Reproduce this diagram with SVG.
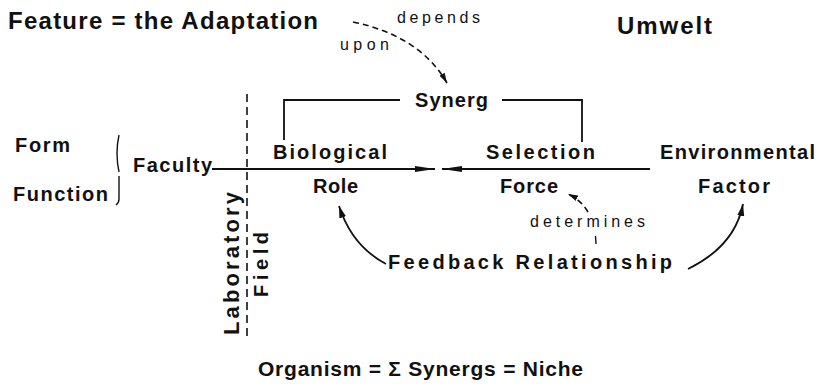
<svg xmlns="http://www.w3.org/2000/svg" width="829" height="390" viewBox="0 0 829 390">
<style>
text{font-family:"Liberation Sans","DejaVu Sans",sans-serif;fill:#111;}
.b{font-size:20px;font-weight:bold;}
.t{font-size:24px;font-weight:bold;}
.s{font-size:16px;font-weight:normal;}
.ln{fill:none;stroke:#111;stroke-width:1.8;}
.dash{fill:none;stroke:#111;stroke-width:1.6;stroke-dasharray:6,4;}
</style>
<defs>
<marker id="ah" viewBox="0 0 20 8" refX="20" refY="4" markerWidth="20" markerHeight="8" markerUnits="userSpaceOnUse" orient="auto"><path d="M0,1 L20,4 L0,7 Z" fill="#111"/></marker>
<marker id="ac" viewBox="0 0 12 8" refX="12" refY="4" markerWidth="12" markerHeight="8" markerUnits="userSpaceOnUse" orient="auto"><path d="M0,0.5 L12,4 L0,7.5 Z" fill="#111"/></marker>
<marker id="ad" viewBox="0 0 10 7" refX="10" refY="3.5" markerWidth="10" markerHeight="7" markerUnits="userSpaceOnUse" orient="auto"><path d="M0,0.5 L10,3.5 L0,6.5 Z" fill="#111"/></marker>
</defs>
<g id="connectors">
<path class="ln" d="M212,169 L435,169" marker-end="url(#ah)"/>
<path class="ln" d="M650,169 L442,169" marker-end="url(#ah)"/>
<path class="ln" d="M284,140 L284,100 L400,100"/>
<path class="ln" d="M502,100 L582,100 L582,142"/>
<path class="dash" d="M353,22 Q420,36 447,83" marker-end="url(#ad)"/>
<path class="dash" d="M588,212 Q581,200 568,194" marker-end="url(#ad)"/>
<path class="ln" d="M595.5,236 L596,244" style="stroke-width:1.4"/>
<path class="ln" d="M386,264 Q352,246 339,206" marker-end="url(#ac)"/>
<path class="ln" d="M688,269 Q735,246 743,204" marker-end="url(#ac)"/>
<path class="dash" d="M247,94 L247,338" style="stroke-dasharray:8,5"/>
<path class="ln" d="M119,135 Q115,153 119,172" style="stroke-width:1.4"/>
<path class="ln" d="M119,176 L119,199 Q119,203 116,205" style="stroke-width:1.4"/>
</g>
<g id="title"><text class="t" x="8" y="29" textLength="310" lengthAdjust="spacing">Feature = the Adaptation</text></g>
<g id="umwelt"><text class="t" x="617" y="34" textLength="95" lengthAdjust="spacing">Umwelt</text></g>
<g id="depends"><text class="s" x="397" y="23" textLength="83" lengthAdjust="spacing">depends</text></g>
<g id="upon"><text class="s" x="340" y="50" textLength="49" lengthAdjust="spacing">upon</text></g>
<g id="synerg"><text class="b" x="415" y="107" textLength="73" lengthAdjust="spacing">Synerg</text></g>
<g id="form"><text class="b" x="15" y="152" textLength="55" lengthAdjust="spacing">Form</text></g>
<g id="function"><text class="b" x="13" y="201" textLength="95" lengthAdjust="spacing">Function</text></g>
<g id="faculty"><text class="b" x="133" y="172" textLength="79" lengthAdjust="spacing">Faculty</text></g>
<g id="biological-role">
<text class="b" x="273" y="159" textLength="114" lengthAdjust="spacing">Biological</text>
<text class="b" x="313" y="193" textLength="45" lengthAdjust="spacing">Role</text>
</g>
<g id="selection-force">
<text class="b" x="486" y="159" textLength="109" lengthAdjust="spacing">Selection</text>
<text class="b" x="500" y="193" textLength="58" lengthAdjust="spacing">Force</text>
</g>
<g id="environmental-factor">
<text class="b" x="660" y="159" textLength="155" lengthAdjust="spacing">Environmental</text>
<text class="b" x="698" y="193" textLength="72" lengthAdjust="spacing">Factor</text>
</g>
<g id="determines"><text class="s" x="530" y="227" textLength="115" lengthAdjust="spacing">determines</text></g>
<g id="feedback"><text class="b" x="388" y="269" textLength="284" lengthAdjust="spacing">Feedback  Relationship</text></g>
<g id="laboratory"><text class="b" transform="translate(239,335) rotate(-90)" x="0" y="0" style="font-size:22px" textLength="143" lengthAdjust="spacing">Laboratory</text></g>
<g id="field"><text class="b" transform="translate(268,297) rotate(-90)" x="0" y="0" textLength="65" lengthAdjust="spacing">Field</text></g>
<g id="organism"><text class="t" x="258" y="376" style="font-size:21px" textLength="325" lengthAdjust="spacing">Organism = Σ  Synergs = Niche</text></g>
</svg>
